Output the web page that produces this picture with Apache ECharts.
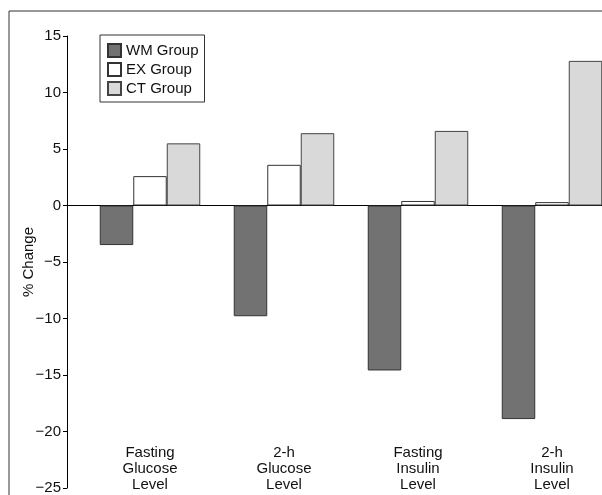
<!DOCTYPE html>
<html><head><meta charset="utf-8">
<script src="https://cdn.jsdelivr.net/npm/echarts@6/dist/echarts.min.js"></script>
<style>html,body{margin:0;padding:0;background:#fff;overflow:hidden;width:602px;height:495px}#c{width:660px;height:520px}</style>
</head><body><div id="c"></div>
<script>
var categories = ['Fasting\nGlucose\nLevel', '2-h\nGlucose\nLevel', 'Fasting\nInsulin\nLevel', '2-h\nInsulin\nLevel'];
var seriesNames = ['WM Group', 'EX Group', 'CT Group'];
var wmValues = [-3.5, -9.8, -14.6, -18.9];
var exValues = [2.6, 3.6, 0.4, 0.3];
var ctValues = [5.5, 6.4, 6.6, 12.8];
var yMin = -25, yMax = 15, yStep = 5;

var FONT = "'Liberation Sans', Arial, sans-serif";
var chart = echarts.init(document.getElementById('c'), null, {renderer: 'canvas'});
function bar(name, data, fill, border) {
  return {
    name: name, type: 'bar', data: data, xAxisIndex: 0, yAxisIndex: 0,
    barGap: '0%', barCategoryGap: '25%',
    itemStyle: {color: fill, borderColor: border, borderWidth: 1},
    emphasis: {disabled: true}
  };
}
chart.setOption({
  animation: false,
  textStyle: {fontFamily: FONT},
  grid: [
    {left: 83, top: 36, width: 536, height: 452, containLabel: false},
    {left: 67, top: 36, width: 560, height: 452, containLabel: false},
    {left: 9, top: 11, width: 640, height: 505, show: true, borderColor: '#333', borderWidth: 1, containLabel: false}
  ],
  legend: {
    data: seriesNames, orient: 'vertical', left: 100, top: 35,
    icon: 'rect',
    itemWidth: 13, itemHeight: 13, itemGap: 4,
    padding: [8, 6, 6, 7],
    borderColor: '#333', borderWidth: 1,
    textStyle: {fontFamily: FONT, fontSize: 15, lineHeight: 15, color: '#111', padding: [0, 0, 0, 0]},
    selectedMode: false
  },
  xAxis: [
    {type: 'category', gridIndex: 0, data: categories, position: 'bottom',
     axisLine: {show: false}, axisTick: {show: false},
     axisLabel: {inside: true, margin: -5, fontSize: 15, lineHeight: 16, color: '#111', fontFamily: FONT, interval: 0, verticalAlign: 'bottom'}},
    {type: 'value', gridIndex: 1, min: 0, max: 1,
     axisLine: {show: true, onZero: true, lineStyle: {color: '#000', width: 1}},
     axisTick: {show: false}, axisLabel: {show: false}, splitLine: {show: false}},
    {type: 'value', gridIndex: 2, show: false}
  ],
  yAxis: [
    {type: 'value', gridIndex: 0, min: yMin, max: yMax, interval: yStep, show: false, splitLine: {show: false}},
    {type: 'value', gridIndex: 1, min: yMin, max: yMax, interval: yStep,
     name: '% Change', nameLocation: 'middle', nameGap: 31, nameMoveOverlap: false,
     nameTextStyle: {fontFamily: FONT, fontSize: 15, color: '#111'},
     axisLine: {show: true, lineStyle: {color: '#000', width: 1}},
     axisTick: {show: true, length: 4, lineStyle: {color: '#000'}},
     axisLabel: {fontSize: 15, color: '#111', margin: 6, fontFamily: FONT,
       formatter: function (v) { return String(v).replace('-', '\u2212'); }},
     splitLine: {show: false}},
    {type: 'value', gridIndex: 2, show: false}
  ],
  series: [
    bar(seriesNames[0], wmValues, '#727272', '#333'),
    bar(seriesNames[1], exValues, '#ffffff', '#333'),
    bar(seriesNames[2], ctValues, '#d9d9d9', '#444')
  ]
});
</script></body></html>
